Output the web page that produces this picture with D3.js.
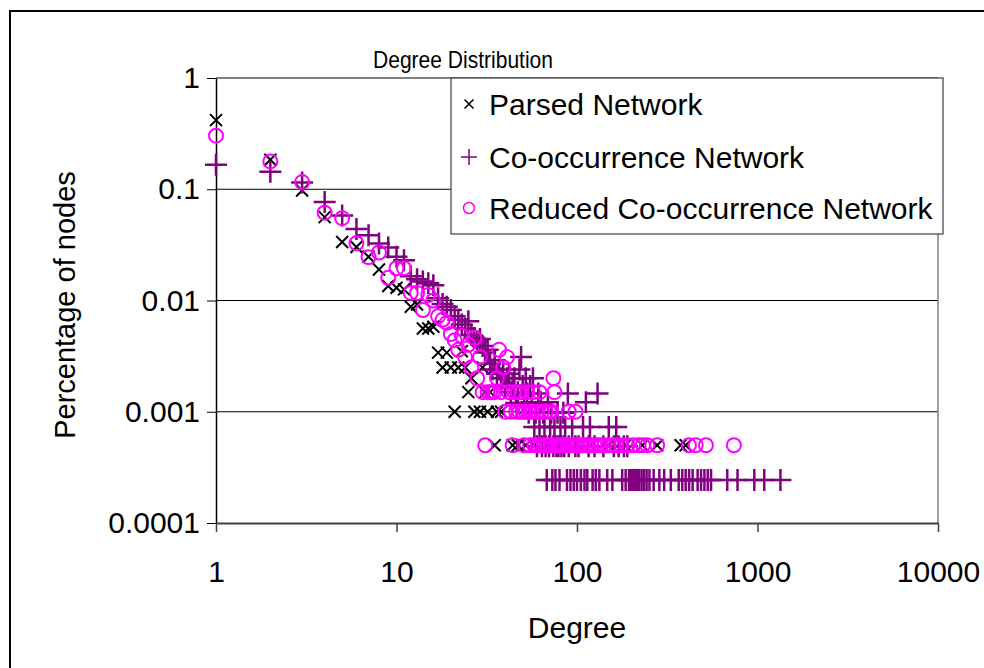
<!DOCTYPE html>
<html><head><meta charset="utf-8">
<script src="https://cdn.jsdelivr.net/npm/d3@7"></script>
<style>body{margin:0;background:#fff;} text{font-family:"Liberation Sans",Arial,sans-serif;}</style>
</head><body>
<svg id="c" width="984" height="668"></svg>
<script>
const title = "Degree Distribution";
const xTitle = "Degree";
const yTitle = "Percentage of nodes";
const xTicks = [1, 10, 100, 1000, 10000];
const xTickLabels = ["1", "10", "100", "1000", "10000"];
const yTicks = [1, 0.1, 0.01, 0.001, 0.0001];
const yTickLabels = ["1", "0.1", "0.01", "0.001", "0.0001"];
const seriesNames = ["Parsed Network", "Co-occurrence Network", "Reduced Co-occurrence Network"];

// Parsed Network
const parsedDeg = [1,2,3,4,5,6,7,8,9,10,11,12,13,14,15,16,17,18,19,20,21,22,23,24,25,26,27,29,30,31,32,33,35,36,38,44,47,52,58,64,72,85,100,120,150,185,230,278,375,400];
const parsedVal = [0.418,0.184,0.0975,0.0562,0.0336,0.0303,0.0247,0.019,0.0135,0.013,0.0126,0.0088,0.0092,0.0056,0.0056,0.0058,0.0034,0.0025,0.0034,0.0025,0.001,0.0025,0.0035,0.0025,0.0015,0.002,0.001,0.001,0.0025,0.0015,0.001,0.0015,0.0005,0.001,0.001,0.0005,0.0005,0.0005,0.0005,0.0005,0.0005,0.0005,0.0005,0.0005,0.0005,0.0005,0.0005,0.0005,0.0005,0.0005];

// Co-occurrence Network
const coDeg = [1,2,3,4,5,6,7,8,9,10,11,12,13,14,15,16,17,18,19,20,21,22,23,24,25,26,27,28,29,30,31,32,33,34,35,36,37,38,39,40,41,42,43,44,45,46,47,48,49,50,51,52,53,54,55,56,57,58,59,60,61,62,63,64,65,66,67,68,69,70,71,72,73,74,75,76,77,78,79,80,81,82,84,85,86,88,89,90,92,94,96,98,100,102,105,108,110,112,114,116,118,122,125,127,130,133,140,147,150,157,160,165,170,178,182,186,190,194,199,203,207,211,216,221,228,235,243,252,266,286,304,331,366,383,400,418,437,466,487,508,530,553,680,775,960,1090,1340];
const coVal = [0.166,0.144,0.115,0.077,0.058,0.044,0.0385,0.0325,0.030,0.0247,0.023,0.0165,0.0155,0.0148,0.0143,0.0137,0.0105,0.0093,0.0088,0.0082,0.0072,0.0067,0.0061,0.0056,0.0065,0.0049,0.0046,0.0043,0.0045,0.0039,0.0034,0.0036,0.0027,0.0024,0.0029,0.0022,0.0024,0.0020,0.0022,0.0017,0.0020,0.0022,0.0015,0.0017,0.0020,0.0012,0.0015,0.0024,0.0031,0.0017,0.0012,0.0020,0.00146,0.00098,0.0017,0.00122,0.0020,0.00073,0.00098,0.00049,0.00146,0.00073,0.00122,0.00049,0.00098,0.00073,0.00049,0.000244,0.00122,0.00049,0.00073,0.00098,0.000244,0.00049,0.00073,0.000244,0.00049,0.00098,0.00049,0.000244,0.00073,0.00049,0.00098,0.00049,0.00073,0.000244,0.00146,0.00049,0.000244,0.00073,0.000244,0.00049,0.000244,0.00049,0.000244,0.00073,0.000244,0.00122,0.000244,0.00049,0.00073,0.000244,0.00049,0.000244,0.00146,0.000244,0.00049,0.000244,0.00073,0.000244,0.00049,0.00073,0.00049,0.000244,0.00049,0.000244,0.00049,0.000244,0.000244,0.000244,0.000244,0.000244,0.000244,0.000244,0.000244,0.000244,0.000244,0.000244,0.000244,0.000244,0.000244,0.000244,0.000244,0.000244,0.000244,0.000244,0.000244,0.000244,0.000244,0.000244,0.000244,0.000244,0.000244,0.000244,0.000244,0.000244,0.000244];

// Reduced Co-occurrence Network
const redDeg = [1,2,3,4,5,6,7,8,9,10,11,12,13,14,15,16,17,18,19,20,21,22,23,24,25,26,27,28,29,30,31,32,33,34,35,36,37,38,39,40,41,42,43,44,45,46,47,48,49,50,51,52,53,54,55,56,57,58,60,61,62,63,64,66,67,68,70,71,72,74,75,76,78,80,82,85,88,90,92,95,98,100,104,108,112,116,120,125,130,136,142,150,158,165,176,190,205,220,232,245,278,417,455,518,740];
const redVal = [0.303,0.178,0.116,0.0615,0.055,0.0327,0.0245,0.027,0.016,0.0195,0.0195,0.0117,0.0117,0.0082,0.0112,0.0100,0.0072,0.0067,0.0063,0.0050,0.0044,0.0036,0.0048,0.0031,0.0040,0.0025,0.0046,0.0020,0.0031,0.0015,0.0005,0.0015,0.0015,0.0015,0.0015,0.0020,0.0036,0.0015,0.0025,0.001,0.0031,0.0015,0.001,0.0005,0.0015,0.001,0.0015,0.001,0.0015,0.001,0.0005,0.001,0.0015,0.001,0.0005,0.001,0.0015,0.0005,0.001,0.0005,0.0015,0.0005,0.001,0.0005,0.001,0.0005,0.001,0.0005,0.001,0.002,0.0015,0.0005,0.0005,0.0005,0.0005,0.0005,0.0005,0.001,0.0005,0.0005,0.001,0.0005,0.0005,0.0005,0.0005,0.0005,0.0005,0.0005,0.0005,0.0005,0.0005,0.0005,0.0005,0.0005,0.0005,0.0005,0.0005,0.0005,0.0005,0.0005,0.0005,0.0005,0.0005,0.0005,0.0005];

const colors = ["#000000", "#800080", "#FF00FF"];

const svg = d3.select("#c");
const L = 216, R = 938, T = 78, B = 523;
const x = d3.scaleLog().domain([1, 10000]).range([L, R]);
const y = d3.scaleLog().domain([0.0001, 1]).range([B, T]);
const FONT = "Liberation Sans, Arial, sans-serif";

// outer border
svg.append("rect").attr("x", 10).attr("y", 11).attr("width", 1000).attr("height", 700)
  .attr("fill", "#fff").attr("stroke", "#000").attr("stroke-width", 2);

// gridlines
svg.append("g").selectAll("line").data(yTicks.filter(v => v < 1 && v > 0.0001)).join("line")
  .attr("x1", L).attr("x2", R).attr("y1", d => y(d)).attr("y2", d => y(d))
  .attr("stroke", "#000").attr("stroke-width", 1);
// plot top/right border
svg.append("line").attr("x1", L).attr("x2", R).attr("y1", T).attr("y2", T).attr("stroke", "#808080").attr("stroke-width", 2);
svg.append("line").attr("x1", R).attr("x2", R).attr("y1", T).attr("y2", B).attr("stroke", "#808080").attr("stroke-width", 1.5);

// axes
const yAxis = svg.append("g").attr("transform", `translate(${L},0)`)
  .call(d3.axisLeft(y).tickValues(yTicks).tickFormat((d, i) => yTickLabels[i]).tickSize(9).tickPadding(7).tickSizeOuter(0));
yAxis.select(".domain").attr("stroke", "#000").attr("stroke-width", 1.5);
yAxis.selectAll(".tick line").attr("stroke", "#000");
yAxis.selectAll("text").attr("font-size", 30).attr("fill", "#000").attr("font-family", FONT);

const xAxis = svg.append("g").attr("transform", `translate(0,${B})`)
  .call(d3.axisBottom(x).tickValues(xTicks).tickFormat((d, i) => xTickLabels[i]).tickSize(9).tickPadding(29).tickSizeOuter(0));
xAxis.select(".domain").attr("stroke", "#404040").attr("stroke-width", 2);
xAxis.selectAll(".tick line").attr("stroke", "#404040").attr("stroke-width", 1.5);
xAxis.selectAll("text").attr("font-size", 30).attr("fill", "#000").attr("font-family", FONT);

// titles
svg.append("text").attr("x", 463).attr("y", 68).attr("text-anchor", "middle").attr("font-size", 24)
  .attr("textLength", 180).attr("lengthAdjust", "spacingAndGlyphs").text(title);
svg.append("text").attr("x", 577).attr("y", 638).attr("text-anchor", "middle").attr("font-size", 30).text(xTitle);
svg.append("text").attr("transform", "translate(75,305) rotate(-90)").attr("text-anchor", "middle").attr("font-size", 29).text(yTitle);

// markers
function drawX(g, cx, cy, s, col, w) {
  g.append("path").attr("d", `M${cx-s},${cy-s}L${cx+s},${cy+s}M${cx-s},${cy+s}L${cx+s},${cy-s}`)
    .attr("stroke", col).attr("stroke-width", w).attr("fill", "none");
}
function drawPlus(g, cx, cy, s, col, w) {
  g.append("path").attr("d", `M${cx-s},${cy}L${cx+s},${cy}M${cx},${cy-s}L${cx},${cy+s}`)
    .attr("stroke", col).attr("stroke-width", w).attr("fill", "none");
}
const gP = svg.append("g");
parsedDeg.forEach((d, i) => drawX(gP, x(d), y(parsedVal[i]), 6, colors[0], 2));
const gC = svg.append("g");
coDeg.forEach((d, i) => drawPlus(gC, x(d), y(coVal[i]), 11, colors[1], 2.5));
const gR = svg.append("g");
redDeg.forEach((d, i) => gR.append("circle").attr("cx", x(d)).attr("cy", y(redVal[i])).attr("r", 7)
  .attr("fill", "none").attr("stroke", colors[2]).attr("stroke-width", 2));

// legend
const lg = svg.append("g");
lg.append("rect").attr("x", 451).attr("y", 78).attr("width", 492).attr("height", 156)
  .attr("fill", "#fff").attr("stroke", "#404040").attr("stroke-width", 1.2);
const rowsY = [104, 157, 208];
drawX(lg, 469, rowsY[0], 4.5, colors[0], 1.5);
drawPlus(lg, 469, rowsY[1], 8, colors[1], 1.5);
lg.append("circle").attr("cx", 469).attr("cy", rowsY[2]).attr("r", 5.5).attr("fill", "none").attr("stroke", colors[2]).attr("stroke-width", 1.5);
seriesNames.forEach((n, i) => lg.append("text").attr("x", 489).attr("y", rowsY[i] + 11).attr("font-size", 30).text(n));
</script>
</body></html>
